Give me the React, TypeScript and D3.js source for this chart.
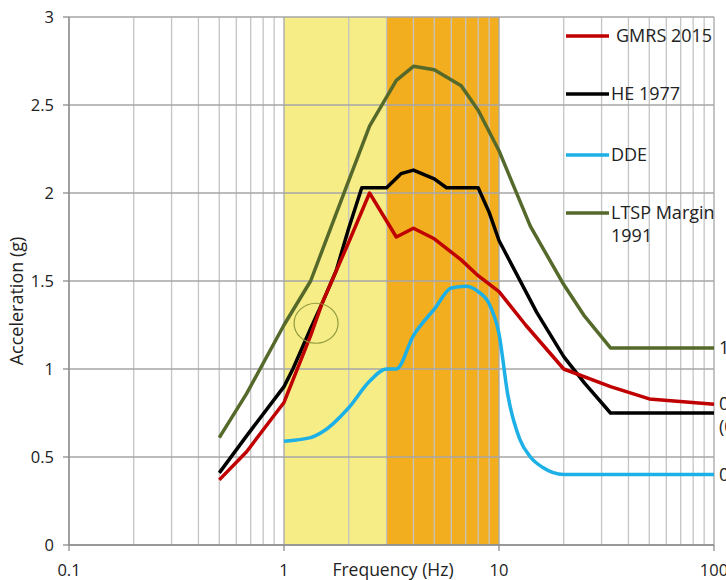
import React, { useEffect, useRef } from "react";
import { select, scaleLog, scaleLinear, line, curveMonotoneX, curveLinear, range } from "d3";

// frequency (Hz) / acceleration (g)
const gmrsFreq = [0.5, 0.67, 1, 1.33, 1.5, 2, 2.5, 3.33, 4, 5, 6.67, 8, 10, 13.3, 20, 33, 50, 100];
const gmrsAcc = [0.37, 0.53, 0.81, 1.19, 1.37, 1.72, 2.0, 1.75, 1.8, 1.74, 1.62, 1.53, 1.44, 1.25, 1.0, 0.9, 0.83, 0.8];

const heFreq = [0.5, 0.67, 1, 1.1, 1.33, 1.5, 1.75, 2, 2.3, 3, 3.5, 4, 5, 5.7, 8, 9, 10, 15, 20, 25, 33, 100];
const heAcc = [0.41, 0.62, 0.9, 1.0, 1.23, 1.37, 1.56, 1.8, 2.03, 2.03, 2.11, 2.13, 2.08, 2.03, 2.03, 1.89, 1.73, 1.32, 1.07, 0.92, 0.75, 0.75];

const ddeFreq = [1, 1.33, 1.5, 2, 2.5, 3, 3.33, 4, 5, 6, 7, 8, 9, 10, 11, 12.5, 14, 16, 20, 100];
const ddeAcc = [0.59, 0.61, 0.64, 0.78, 0.93, 1.0, 1.0, 1.19, 1.34, 1.46, 1.47, 1.44, 1.37, 1.2, 0.85, 0.6, 0.5, 0.44, 0.4, 0.4];

const ltspFreq = [0.5, 0.67, 1, 1.33, 2, 2.5, 3.33, 4, 5, 6.67, 8, 10, 14, 20, 25, 33, 100];
const ltspAcc = [0.61, 0.86, 1.25, 1.5, 2.07, 2.38, 2.64, 2.72, 2.7, 2.61, 2.47, 2.24, 1.81, 1.48, 1.3, 1.12, 1.12];

const seriesNames = ["GMRS 2015", "HE 1977", "DDE", "LTSP Margin 1991"];
const seriesColors = ["#c00000", "#000000", "#1cb0e6", "#55692a"];
const endLabels = ["0.80", "(0.75)", "0.40", "1.12"];

const xTicks = [0.1, 1, 10, 100];
const xTickLabels = ["0.1", "1", "10", "100"];
const yTicks = [0, 0.5, 1, 1.5, 2, 2.5, 3];

// shaded frequency bands
const bandStarts = [1, 3];
const bandEnds = [3, 10];
const bandColors = ["#f7ed87", "#f2ae1e"];

const FONT = "'Open Sans', sans-serif";

export default function App() {
  const ref = useRef<SVGSVGElement>(null);
  const width = 726;
  const height = 580;

  useEffect(() => {
    const svg = select(ref.current);
    svg.selectAll("*").remove();

    const x = scaleLog().domain([0.1, 100]).range([69, 714]);
    const y = scaleLinear().domain([0, 3]).range([545, 17]);

    // bands
    svg.selectAll("rect.band")
      .data(bandStarts)
      .join("rect")
      .attr("class", "band")
      .attr("x", (d) => x(d))
      .attr("width", (d, i) => x(bandEnds[i]) - x(d))
      .attr("y", y(3))
      .attr("height", y(0) - y(3))
      .attr("fill", (d, i) => bandColors[i]);

    // vertical grid (log minor lines)
    const vLines: number[] = [];
    [0.1, 1, 10].forEach((dec) => range(1, 10).forEach((m) => vLines.push(dec * m)));
    vLines.push(100);
    svg.append("g")
      .selectAll("line")
      .data(vLines)
      .join("line")
      .attr("x1", (d) => x(d))
      .attr("x2", (d) => x(d))
      .attr("y1", y(0))
      .attr("y2", y(3))
      .attr("stroke", (d) => (xTicks.includes(d) ? "#a6a6a6" : "#c4c4c4"))
      .attr("stroke-width", 1.3);

    // horizontal grid
    svg.append("g")
      .selectAll("line")
      .data(yTicks)
      .join("line")
      .attr("x1", x(0.1))
      .attr("x2", x(100))
      .attr("y1", (d) => y(d))
      .attr("y2", (d) => y(d))
      .attr("stroke", "#a6a6a6")
      .attr("stroke-width", 1.3);

    // axis lines + ticks
    const axis = svg.append("g").attr("stroke", "#8c8c8c").attr("stroke-width", 1.3);
    axis.append("line").attr("x1", x(0.1)).attr("x2", x(0.1)).attr("y1", y(0)).attr("y2", y(3));
    axis.append("line").attr("x1", x(0.1)).attr("x2", x(100)).attr("y1", y(0)).attr("y2", y(0));
    axis.selectAll("line.yt").data(yTicks).join("line").attr("class", "yt")
      .attr("x1", x(0.1) - 6).attr("x2", x(0.1)).attr("y1", (d) => y(d)).attr("y2", (d) => y(d));
    axis.selectAll("line.xt").data(xTicks).join("line").attr("class", "xt")
      .attr("x1", (d) => x(d)).attr("x2", (d) => x(d)).attr("y1", y(0)).attr("y2", y(0) + 6);

    // tick labels
    svg.append("g")
      .selectAll("text")
      .data(yTicks)
      .join("text")
      .attr("x", 54)
      .attr("y", (d) => y(d) + 6)
      .attr("text-anchor", "end")
      .style("font-family", FONT)
      .style("font-size", "16.5px")
      .attr("fill", "#222")
      .text((d) => String(d));

    svg.append("g")
      .selectAll("text")
      .data(xTicks)
      .join("text")
      .attr("x", (d) => x(d))
      .attr("y", 576)
      .attr("text-anchor", "middle")
      .style("font-family", FONT)
      .style("font-size", "16.5px")
      .attr("fill", "#222")
      .text((d, i) => xTickLabels[i]);

    // axis titles
    svg.append("text")
      .attr("x", 393)
      .attr("y", 576)
      .attr("text-anchor", "middle")
      .style("font-family", FONT)
      .style("font-size", "17.5px")
      .attr("fill", "#222")
      .text("Frequency (Hz)");

    svg.append("text")
      .attr("transform", "translate(23,301) rotate(-90)")
      .attr("text-anchor", "middle")
      .style("font-family", FONT)
      .style("font-size", "18px")
      .attr("fill", "#222")
      .text("Acceleration (g)");

    // series
    const freqs = [gmrsFreq, heFreq, ddeFreq, ltspFreq];
    const accs = [gmrsAcc, heAcc, ddeAcc, ltspAcc];
    const order = [3, 1, 0, 2];
    order.forEach((s) => {
      const pts = freqs[s].map((f, i) => [f, accs[s][i]] as [number, number]);
      const gen = line<[number, number]>()
        .x((d) => x(d[0]))
        .y((d) => y(d[1]))
        .curve(s === 2 ? curveMonotoneX : curveLinear);
      svg.append("path")
        .datum(pts)
        .attr("d", gen)
        .attr("fill", "none")
        .attr("stroke", seriesColors[s])
        .attr("stroke-width", 3.5)
        .attr("stroke-linejoin", "round");

      const last = pts[pts.length - 1];
      svg.append("text")
        .attr("x", x(100) + 5)
        .attr("y", y(last[1]) + 6 + (s === 1 ? 14 : 0))
        .style("font-family", FONT)
        .style("font-size", "18px")
        .attr("fill", "#222")
        .text(endLabels[s]);
    });

    // annotation ellipse
    svg.append("ellipse")
      .attr("cx", x(1.41))
      .attr("cy", y(1.26))
      .attr("rx", 22)
      .attr("ry", 20)
      .attr("fill", "none")
      .attr("stroke", "#8f9a3c")
      .attr("stroke-width", 1.2);

    // legend
    const legendY = [36, 94, 155, 213];
    const lg = svg.append("g");
    seriesNames.forEach((name, i) => {
      lg.append("line")
        .attr("x1", 566)
        .attr("x2", 609)
        .attr("y1", legendY[i])
        .attr("y2", legendY[i])
        .attr("stroke", seriesColors[i])
        .attr("stroke-width", 3.5);
      const words = i === 3 ? ["LTSP Margin", "1991"] : [name];
      words.forEach((w, k) => {
        lg.append("text")
          .attr("x", i === 0 ? 616 : 611)
          .attr("y", legendY[i] + 6 + k * 23)
          .style("font-family", FONT)
          .style("font-size", "18px")
          .attr("fill", "#222")
          .text(w);
      });
    });
  }, []);

  return (
    <svg
      ref={ref}
      width={width}
      height={height}
      style={{ position: "absolute", left: 0, top: 0, background: "#fff" }}
    />
  );
}
